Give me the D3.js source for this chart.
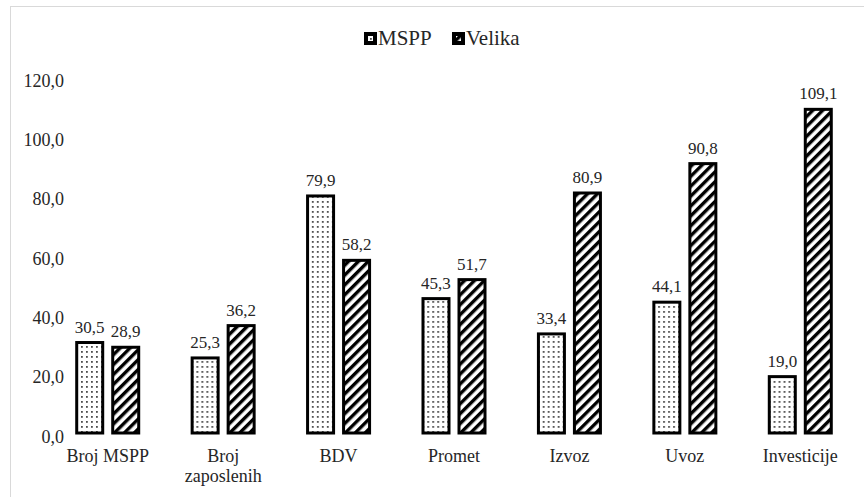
<!DOCTYPE html>
<html>
<head>
<meta charset="utf-8">
<script src="https://cdn.jsdelivr.net/npm/d3@7"></script>
<style>
  body { margin: 0; background: #fff; }
</style>
</head>
<body>
<div id="chart"></div>
<script>
var categories = ["Broj MSPP", "Broj zaposlenih", "BDV", "Promet", "Izvoz", "Uvoz", "Investicije"];
var series = ["MSPP", "Velika"];
var mspp = [30.5, 25.3, 79.9, 45.3, 33.4, 44.1, 19.0];
var velika = [28.9, 36.2, 58.2, 51.7, 80.9, 90.8, 109.1];
var yTicks = [0, 20, 40, 60, 80, 100, 120];

var FONT = '"Liberation Serif", "Times New Roman", serif';
var width = 864, height = 497;
var margin = { top: 77, right: 6, bottom: 64, left: 50 };

var svg = d3.select("#chart").append("svg")
  .attr("width", width)
  .attr("height", height)
  .style("font-family", FONT);

// patterns
var defs = svg.append("defs");
var dots = defs.append("pattern")
  .attr("id", "dots")
  .attr("patternUnits", "userSpaceOnUse")
  .attr("width", 5).attr("height", 5);
dots.append("rect").attr("width", 5).attr("height", 5).attr("fill", "#fff");
dots.append("rect").attr("x", 1).attr("y", 1).attr("width", 1.8).attr("height", 1.8).attr("fill", "#4d4d4d");

var hatch = defs.append("pattern")
  .attr("id", "hatch")
  .attr("patternUnits", "userSpaceOnUse")
  .attr("width", 7).attr("height", 7)
  .attr("patternTransform", "rotate(45)");
hatch.append("rect").attr("width", 7).attr("height", 7).attr("fill", "#fff");
hatch.append("rect").attr("x", 0).attr("y", 0).attr("width", 3.4).attr("height", 7).attr("fill", "#000");

var fills = { "MSPP": "url(#dots)", "Velika": "url(#hatch)" };

// outer border
svg.append("rect")
  .attr("x", 10.5).attr("y", 6.5)
  .attr("width", width).attr("height", height)
  .attr("fill", "none")
  .attr("stroke", "#d9d9d9");

var x0 = d3.scaleBand()
  .domain(categories)
  .range([margin.left, width - margin.right])
  .paddingInner(0);

var bw = x0.bandwidth();
var x1 = d3.scaleBand()
  .domain(series)
  .range([bw / 2 - 32.5, bw / 2 + 32.5])
  .paddingInner(7 / 36);

var y = d3.scaleLinear()
  .domain([0, 120])
  .range([height - margin.bottom, margin.top]);

// y axis labels
var yAxis = d3.axisLeft(y)
  .tickValues(yTicks)
  .tickSize(0)
  .tickPadding(0)
  .tickFormat(function (d) { return d3.format(".1f")(d).replace(".", ","); });

var yg = svg.append("g")
  .attr("transform", "translate(64,3)")
  .call(yAxis)
  .attr("font-family", null)
  .attr("font-size", null);
yg.select(".domain").remove();
yg.selectAll("text")
  .style("font-family", FONT)
  .style("font-size", "18px")
  .style("fill", "#262626")
  .attr("dy", "0.35em");

// x axis labels
var xg = svg.append("g")
  .attr("transform", "translate(0," + (height - margin.bottom) + ")")
  .call(d3.axisBottom(x0).tickSize(0).tickPadding(0))
  .attr("font-family", null)
  .attr("font-size", null);
xg.select(".domain").remove();
xg.selectAll("text").remove();
xg.selectAll(".tick").each(function (d) {
  var words = d === "Broj zaposlenih" ? ["Broj", "zaposlenih"] : [d];
  var t = d3.select(this).append("text")
    .attr("text-anchor", "middle")
    .style("font-family", FONT)
    .style("font-size", "18px")
    .style("fill", "#262626");
  words.forEach(function (w, i) {
    t.append("tspan").attr("x", 0).attr("y", 29 + i * 20).text(w);
  });
});

// data rows
var rows = categories.map(function (c, i) {
  return { cat: c, values: [{ key: "MSPP", v: mspp[i] }, { key: "Velika", v: velika[i] }] };
});

var groups = svg.selectAll("g.group")
  .data(rows)
  .enter().append("g")
  .attr("class", "group")
  .attr("transform", function (d) { return "translate(" + x0(d.cat) + ",0)"; });

groups.selectAll("rect")
  .data(function (d) { return d.values; })
  .enter().append("rect")
  .attr("x", function (d) { return x1(d.key) + 1.5; })
  .attr("width", x1.bandwidth() - 3)
  .attr("y", function (d) { return y(d.v); })
  .attr("height", function (d) { return y(0) - y(d.v); })
  .attr("fill", function (d) { return fills[d.key]; })
  .attr("stroke", "#000")
  .attr("stroke-width", 3);

groups.selectAll("text.val")
  .data(function (d) { return d.values; })
  .enter().append("text")
  .attr("class", "val")
  .attr("x", function (d) { return x1(d.key) + x1.bandwidth() / 2; })
  .attr("y", function (d) { return y(d.v) - 10; })
  .attr("text-anchor", "middle")
  .style("font-family", FONT)
  .style("font-size", "17px")
  .style("fill", "#262626")
  .text(function (d) { return d3.format(".1f")(d.v).replace(".", ","); });

// legend
var legend = svg.append("g").attr("transform", "translate(364,32)");
var lx = [0, 88];
series.forEach(function (s, i) {
  var g = legend.append("g").attr("transform", "translate(" + lx[i] + ",0)");
  g.append("rect")
    .attr("x", 2).attr("y", 2)
    .attr("width", 9).attr("height", 9)
    .attr("fill", fills[s])
    .attr("stroke", "#000")
    .attr("stroke-width", 4);
  g.append("text")
    .attr("x", 14)
    .attr("y", 12.5)
    .style("font-family", FONT)
    .style("font-size", "21px")
    .style("fill", "#262626")
    .text(s);
});
</script>
</body>
</html>
